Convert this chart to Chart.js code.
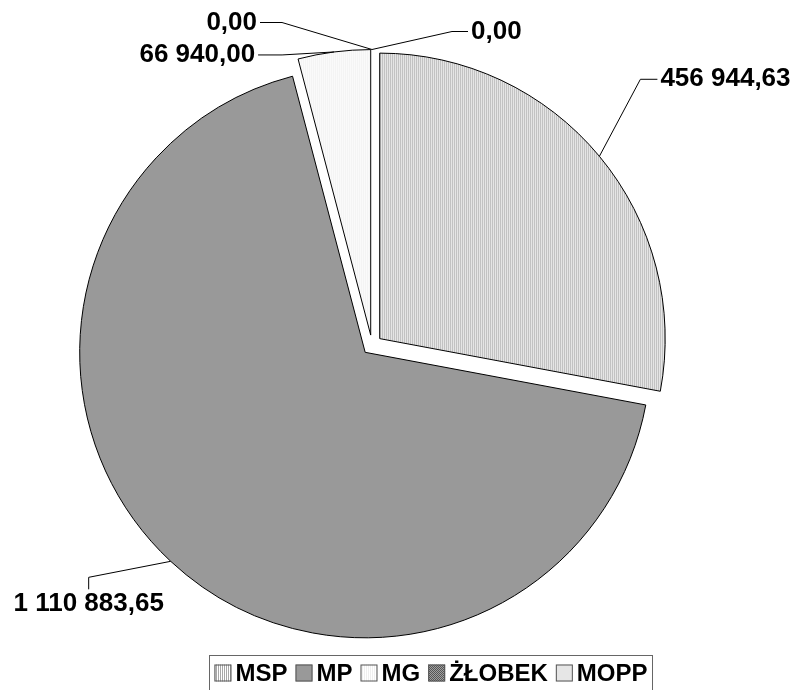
<!DOCTYPE html>
<html>
<head>
<meta charset="utf-8">
<script src="https://cdn.jsdelivr.net/npm/chart.js@4.4.0/dist/chart.umd.min.js"></script>
<style>
  html, body { margin: 0; padding: 0; background: #fff; }
  #wrap { width: 798px; height: 690px; }
</style>
</head>
<body>
<div id="wrap"><canvas id="myChart" width="798" height="690"></canvas></div>
<script>
const categories = ['MSP', 'MP', 'MG', 'ŻŁOBEK', 'MOPP'];
const values = [456944.63, 1110883.65, 66940.00, 0, 0];

// elbow of each leader line, relative to the slice's outer point
const leaderLayout = [
    { dx: 41, dy: -77, run: 17, side: 'right' },
    { dx: -82, dy: 16, run: 12, side: 'down' },
    { dx: -52, dy: 3, run: 24, side: 'left' },
    { dx: -90, dy: -27, run: 22, side: 'left' },
    { dx: 80, dy: -18, run: 16, side: 'right' }
];

const FONT = '"Liberation Sans", Arial, sans-serif';
const EXPLODE = 10;

function fmt(v) {
    const parts = v.toFixed(2).split('.');
    return parts[0].replace(/\B(?=(\d{3})+(?!\d))/g, ' ') + ',' + parts[1];
}

function pattern(ctx, w, h, draw) {
    const c = document.createElement('canvas');
    c.width = w;
    c.height = h;
    draw(c.getContext('2d'));
    return ctx.createPattern(c, 'repeat');
}

const canvas = document.getElementById('myChart');
const ctx = canvas.getContext('2d');

const fills = [
    pattern(ctx, 2, 1, g => { g.fillStyle = '#fff'; g.fillRect(0, 0, 2, 1); g.fillStyle = '#a8a8a8'; g.fillRect(0, 0, 1, 1); }),
    '#999999',
    pattern(ctx, 2, 1, g => { g.fillStyle = '#fff'; g.fillRect(0, 0, 2, 1); g.fillStyle = '#efefef'; g.fillRect(0, 0, 1, 1); }),
    pattern(ctx, 2, 2, g => { g.fillStyle = '#a0a0a0'; g.fillRect(0, 0, 2, 2); g.fillStyle = '#555'; g.fillRect(0, 0, 1, 1); g.fillRect(1, 1, 1, 1); }),
    '#e6e6e6'
];

// draw every slice pulled out from the centre, like an exploded Excel pie
const explodePlugin = {
    id: 'explode',
    beforeDatasetDraw(chart, args) {
        const c = chart.ctx;
        args.meta.data.forEach(arc => {
            const mid = (arc.startAngle + arc.endAngle) / 2;
            c.save();
            c.translate(Math.cos(mid) * EXPLODE, Math.sin(mid) * EXPLODE);
            arc.draw(c);
            c.restore();
        });
        return false;
    }
};

const labelPlugin = {
    id: 'leaderLabels',
    afterDatasetsDraw(chart) {
        const c = chart.ctx;
        const meta = chart.getDatasetMeta(0);
        c.save();
        c.strokeStyle = '#000';
        c.lineWidth = 1;
        c.fillStyle = '#000';
        c.font = 'bold 26px ' + FONT;
        meta.data.forEach((arc, i) => {
            const mid = (arc.startAngle + arc.endAngle) / 2;
            const r = arc.outerRadius + EXPLODE;
            const ax = arc.x + Math.cos(mid) * r;
            const ay = arc.y + Math.sin(mid) * r;
            const L = leaderLayout[i];
            const ex = ax + L.dx;
            const ey = ay + L.dy;
            let tx = ex, ty = ey;
            if (L.side === 'right') tx = ex + L.run;
            else if (L.side === 'left') tx = ex - L.run;
            else ty = ey + L.run;
            c.beginPath();
            c.moveTo(ax, ay);
            c.lineTo(ex, ey);
            c.lineTo(tx, ty);
            c.stroke();
            const text = fmt(chart.data.datasets[0].data[i]);
            if (L.side === 'right') {
                c.textAlign = 'left'; c.textBaseline = 'middle';
                c.fillText(text, tx + 3, ty);
            } else if (L.side === 'left') {
                c.textAlign = 'right'; c.textBaseline = 'middle';
                c.fillText(text, tx - 3, ty);
            } else {
                c.textAlign = 'center'; c.textBaseline = 'top';
                c.fillText(text, tx, ty + 2);
            }
        });
        c.restore();
    }
};

// boxed legend along the bottom
const boxLegend = {
    id: 'boxLegend',
    afterDraw(chart) {
        const c = chart.ctx;
        const ds = chart.data.datasets[0];
        const sw = 17, gap = 4, itemGap = 8, pad = 5;
        c.save();
        c.font = 'bold 24px ' + FONT;
        const widths = chart.data.labels.map(l => c.measureText(l).width);
        let total = pad * 2 - itemGap;
        widths.forEach(w => { total += sw + gap + w + itemGap; });
        const cx = 431;
        const top = 655.5, bottom = 690.5;
        const left = Math.round(cx - total / 2) + 0.5;
        c.strokeStyle = '#666';
        c.lineWidth = 1;
        c.strokeRect(left, top, total, bottom - top);
        let x = left + pad;
        const my = 673;
        chart.data.labels.forEach((l, i) => {
            c.fillStyle = ds.backgroundColor[i];
            c.fillRect(x, my - sw / 2, sw, sw);
            c.strokeStyle = '#555';
            c.strokeRect(x + 0.5, my - sw / 2 + 0.5, sw - 1, sw - 1);
            c.fillStyle = '#000';
            c.textAlign = 'left';
            c.textBaseline = 'middle';
            c.fillText(l, x + sw + gap, my + 1);
            x += sw + gap + widths[i] + itemGap;
        });
        c.restore();
    }
};

new Chart(ctx, {
    type: 'pie',
    data: {
        labels: categories,
        datasets: [{
            data: values,
            backgroundColor: fills,
            borderColor: '#000',
            borderWidth: 1,
            hoverBorderWidth: 1,
            hoverOffset: 0
        }]
    },
    options: {
        responsive: false,
        animation: false,
        events: [],
        layout: { padding: { left: 86, right: 140, top: 59, bottom: 59 } },
        plugins: {
            legend: { display: false },
            tooltip: { enabled: false }
        }
    },
    plugins: [explodePlugin, labelPlugin, boxLegend]
});
</script>
</body>
</html>
